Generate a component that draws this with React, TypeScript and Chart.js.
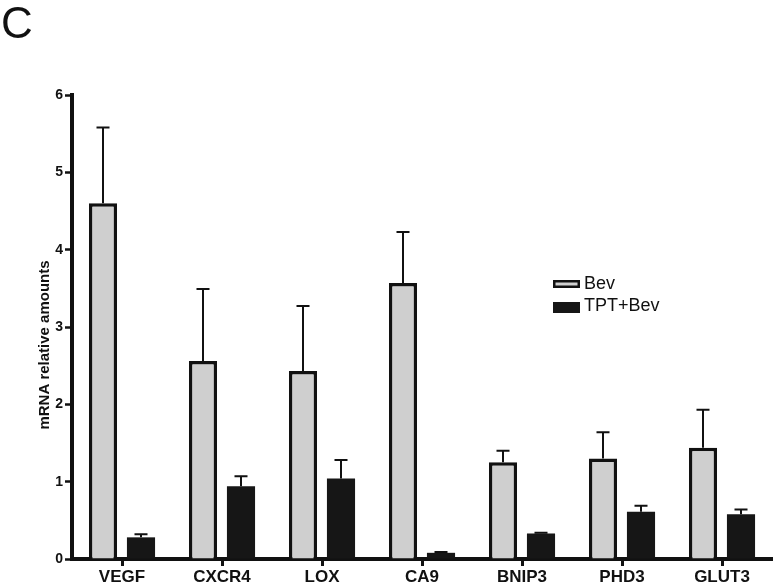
import React, { useEffect, useRef } from "react";
import { Chart, registerables } from "chart.js";

Chart.register(...registerables);

const categories = ["VEGF", "CXCR4", "LOX", "CA9", "BNIP3", "PHD3", "GLUT3"];
const bevValues = [4.6, 2.56, 2.43, 3.57, 1.25, 1.3, 1.44];
const bevErrors = [0.98, 0.93, 0.84, 0.66, 0.15, 0.34, 0.49];
const tptValues = [0.28, 0.94, 1.04, 0.08, 0.33, 0.61, 0.58];
const tptErrors = [0.04, 0.13, 0.24, 0.01, 0.01, 0.08, 0.06];
const yTicks = [0, 1, 2, 3, 4, 5, 6];
const seriesNames = ["Bev", "TPT+Bev"];
const panelLetter = "C";
const yTitle = "mRNA relative amounts";

const FONT = 'Arial, "Liberation Sans", Helvetica, sans-serif';
const BEV_FILL = "#cfcfcf";
const TPT_FILL = "#161616";

const errorBarPlugin = {
  id: "errorBars",
  afterDatasetsDraw(chart: any) {
    const ctx = chart.ctx;
    const yScale = chart.scales.y;
    chart.data.datasets.forEach((ds: any, di: number) => {
      const meta = chart.getDatasetMeta(di);
      const errs: number[] = ds.errors || [];
      meta.data.forEach((bar: any, i: number) => {
        const v = ds.data[i];
        const e = errs[i] || 0;
        const yTop = yScale.getPixelForValue(v + e);
        const yBar = yScale.getPixelForValue(v);
        ctx.save();
        ctx.strokeStyle = "#111";
        ctx.lineWidth = 2;
        ctx.beginPath();
        ctx.moveTo(bar.x, yBar);
        ctx.lineTo(bar.x, yTop);
        ctx.moveTo(bar.x - 6.5, yTop);
        ctx.lineTo(bar.x + 6.5, yTop);
        ctx.stroke();
        ctx.restore();
      });
    });
  },
};

const decorPlugin = {
  id: "decor",
  afterDraw(chart: any) {
    const ctx = chart.ctx;
    ctx.save();
    // panel letter
    ctx.fillStyle = "#111";
    ctx.font = `44px ${FONT}`;
    ctx.textAlign = "left";
    ctx.textBaseline = "top";
    ctx.fillText(panelLetter, 1, 4);
    // y axis title
    ctx.save();
    ctx.translate(45, 345);
    ctx.rotate(-Math.PI / 2);
    ctx.font = `bold 15px ${FONT}`;
    ctx.textAlign = "center";
    ctx.textBaseline = "middle";
    ctx.fillText(yTitle, 0, 0);
    ctx.restore();
    // legend
    const lx = 553;
    const boxW = 27;
    ctx.fillStyle = BEV_FILL;
    ctx.fillRect(lx, 280, boxW, 8);
    ctx.strokeStyle = "#111";
    ctx.lineWidth = 2.5;
    ctx.strokeRect(lx + 1.25, 280 + 1.25, boxW - 2.5, 8 - 2.5);
    ctx.fillStyle = TPT_FILL;
    ctx.fillRect(lx, 302, boxW, 11);
    ctx.fillStyle = "#111";
    ctx.font = `18px ${FONT}`;
    ctx.textAlign = "left";
    ctx.textBaseline = "middle";
    ctx.fillText(seriesNames[0], 584, 284.5);
    ctx.fillText(seriesNames[1], 584, 306.5);
    ctx.restore();
  },
};

export default function App() {
  const canvasRef = useRef<HTMLCanvasElement | null>(null);

  useEffect(() => {
    const canvas = canvasRef.current;
    if (!canvas) return;
    const chart = new Chart(canvas, {
      type: "bar",
      data: {
        labels: categories,
        datasets: [
          {
            label: seriesNames[0],
            data: bevValues,
            errors: bevErrors,
            backgroundColor: BEV_FILL,
            borderColor: "#111",
            borderWidth: 3.5,
            borderSkipped: "bottom",
            categoryPercentage: 0.76,
            barPercentage: 0.74,
          } as any,
          {
            label: seriesNames[1],
            data: tptValues,
            errors: tptErrors,
            backgroundColor: TPT_FILL,
            borderColor: "#111",
            borderWidth: 0,
            categoryPercentage: 0.76,
            barPercentage: 0.74,
          } as any,
        ],
      },
      options: {
        responsive: false,
        animation: false,
        devicePixelRatio: 1,
        layout: { padding: { top: 95, right: 4, left: 0, bottom: 0 } },
        plugins: {
          legend: { display: false },
          tooltip: { enabled: false },
        },
        scales: {
          x: {
            afterFit(scale: any) {
              scale.height = 29;
            },
            grid: {
              display: true,
              offset: false,
              drawOnChartArea: false,
              drawTicks: true,
              tickLength: 7,
              tickWidth: 3,
              tickColor: "#111",
            },
            border: { display: true, color: "#111", width: 4 },
            ticks: {
              color: "#111",
              font: { family: FONT, size: 17, weight: "bold" },
              padding: 1,
              maxRotation: 0,
            },
          },
          y: {
            min: 0,
            max: 6,
            afterFit(scale: any) {
              scale.width = 72;
            },
            afterBuildTicks(scale: any) {
              scale.ticks = yTicks.map((v) => ({ value: v }));
            },
            grid: {
              display: true,
              drawOnChartArea: false,
              drawTicks: true,
              tickLength: 7,
              tickWidth: 2.5,
              tickColor: "#111",
            },
            border: { display: true, color: "#111", width: 4 },
            ticks: {
              color: "#111",
              font: { family: FONT, size: 14, weight: "bold" },
              padding: 2,
            },
          },
        },
      },
      plugins: [errorBarPlugin, decorPlugin],
    });
    return () => chart.destroy();
  }, []);

  return (
    <div style={{ position: "absolute", left: 0, top: 0, width: 776, height: 588, background: "#fff" }}>
      <canvas ref={canvasRef} width={776} height={588} style={{ display: "block" }} />
    </div>
  );
}
